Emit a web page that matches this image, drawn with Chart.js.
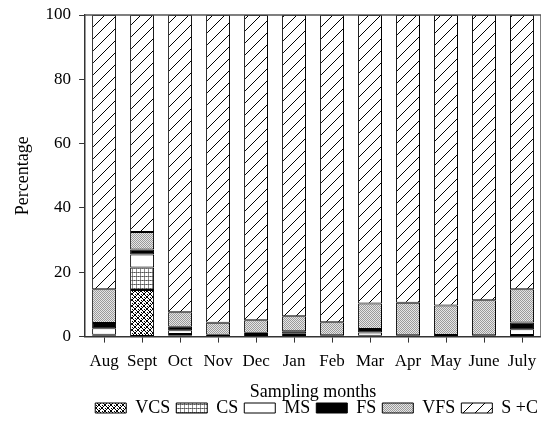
<!DOCTYPE html>
<html>
<head>
<meta charset="utf-8">
<script src="https://cdn.jsdelivr.net/npm/chart.js@4/dist/chart.umd.min.js"></script>
<style>
  html, body { margin: 0; padding: 0; background: #fff; }
  #wrap { width: 541px; height: 421px; }
</style>
</head>
<body>
<div id="wrap"><canvas id="c" width="541" height="421"></canvas></div>
<script>
const months = ["Aug","Sept","Oct","Nov","Dec","Jan","Feb","Mar","Apr","May","June","July"];
const seriesNames = ["VCS","CS","MS","FS","VFS","S +C"];
const vcs = [0.3, 14.5, 0.3, 0.0, 0.0, 0.2, 0.0, 0.2, 0.0, 0.0, 0.0, 0.2];
const cs  = [0.3,  7.0, 0.5, 0.0, 0.2, 0.3, 0.0, 0.1, 0.0, 0.0, 0.0, 0.3];
const ms  = [2.0,  4.0, 1.2, 0.2, 0.6, 0.4, 0.1, 1.0, 0.1, 0.1, 0.1, 1.8];
const fs  = [1.6,  1.6, 1.1, 0.4, 0.4, 0.8, 0.3, 1.1, 0.3, 0.4, 0.3, 2.1];
const vfs = [10.5, 5.4, 4.5, 3.7, 3.9, 4.6, 4.1, 7.9, 10.1, 9.2, 10.9, 10.3];
const sc  = [85.3, 67.5, 92.4, 95.7, 94.9, 93.7, 95.5, 89.7, 89.5, 90.3, 88.7, 85.3];
const yTicks = [0, 20, 40, 60, 80, 100];

function makePattern(w, h, draw) {
  const c = document.createElement('canvas');
  c.width = w; c.height = h;
  const g = c.getContext('2d');
  draw(g, w, h);
  return document.getElementById('c').getContext('2d').createPattern(c, 'repeat');
}
const pVCS = makePattern(6, 6, (g, w, h) => {
  g.fillStyle = '#fff'; g.fillRect(0, 0, w, h);
  g.fillStyle = '#000';
  const px = [[0,0],[1,1],[2,2],[3,3],[4,4],[5,5],[5,0],[4,1],[3,2],[2,3],[1,4],[0,5],[3,0],[0,3]];
  px.forEach(([x,y]) => g.fillRect(x, y, 1, 1));
  g.fillRect(2,2,2,2);
});
const pCS = makePattern(4, 4, (g, w, h) => {
  g.fillStyle = '#fff'; g.fillRect(0, 0, w, h);
  g.fillStyle = '#8a8a8a';
  g.fillRect(0, 0, w, 1);
  g.fillRect(0, 0, 1, h);
  g.fillStyle = '#555';
  g.fillRect(0, 0, 1, 1);
  g.fillRect(2, 0, 1, 1);
});
const pVFS = makePattern(2, 2, (g, w, h) => {
  g.fillStyle = '#e6e6e6'; g.fillRect(0, 0, w, h);
  g.fillStyle = '#9a9a9a';
  g.fillRect(0, 0, 1, 1);
  g.fillRect(1, 1, 1, 1);
});
const pSC = makePattern(12, 12, (g, w, h) => {
  g.fillStyle = '#fff'; g.fillRect(0, 0, w, h);
  g.strokeStyle = '#000'; g.lineWidth = 1;
  g.beginPath();
  g.moveTo(-1, h + 1); g.lineTo(w + 1, -1);
  g.stroke();
});
const fills = [pVCS, pCS, '#ffffff', '#000000', pVFS, pSC];
const values = [vcs, cs, ms, fs, vfs, sc];

const frame = {
  id: 'frame',
  afterDatasetsDraw(chart) {
    const a = chart.chartArea, ctx = chart.ctx;
    ctx.save();
    ctx.strokeStyle = '#555'; ctx.lineWidth = 1.5;
    ctx.beginPath();
    ctx.moveTo(a.left, a.top); ctx.lineTo(a.right, a.top); ctx.lineTo(a.right, a.bottom);
    ctx.stroke();
    ctx.restore();
  }
};

const serif = "'Liberation Serif', 'Times New Roman', serif";
new Chart(document.getElementById('c'), {
  type: 'bar',
  data: {
    labels: months,
    datasets: seriesNames.map((n, i) => ({
      label: n,
      data: values[i],
      backgroundColor: fills[i],
      borderColor: '#000',
      borderWidth: 1,
      borderSkipped: false,
      categoryPercentage: 1,
      barPercentage: 0.63
    }))
  },
  options: {
    responsive: false,
    animation: false,
    layout: { padding: { top: 15, left: 12, right: -3, bottom: -6 } },
    plugins: {
      tooltip: { enabled: false },
      legend: {
        position: 'bottom',
        align: 'end',
        labels: {
          boxWidth: 31, boxHeight: 10, padding: 6,
          color: '#000',
          font: { family: serif, size: 18, lineHeight: 1.0 }
        }
      }
    },
    scales: {
      x: {
        stacked: true,
        offset: true,
        afterFit(scale) { scale.paddingRight = -3; scale.paddingLeft = 0; },
        grid: { offset: false, drawOnChartArea: false, tickLength: 6, color: '#333', tickColor: '#333' },
        border: { color: '#333', width: 1.5 },
        ticks: { color: '#000', font: { family: serif, size: 17 }, padding: 9, maxRotation: 0, autoSkip: false },
        title: { display: true, text: 'Sampling months', color: '#000', font: { family: serif, size: 18, lineHeight: 1.0 }, padding: { top: 2, bottom: -8 } }
      },
      y: {
        stacked: true,
        min: 0, max: 100,
        afterBuildTicks(scale) { scale.ticks = yTicks.map(v => ({ value: v })); },
        afterFit(scale) { scale.paddingRight = -3; scale.paddingTop = 0; },
        grid: { drawOnChartArea: false, tickLength: 6, color: '#333', tickColor: '#333' },
        border: { color: '#333', width: 1.5 },
        ticks: { color: '#000', font: { family: serif, size: 17 }, padding: 8 },
        title: { display: true, text: 'Percentage', color: '#000', font: { family: serif, size: 18 }, padding: { top: 0, bottom: 4 } }
      }
    }
  },
  plugins: [frame]
});
</script>
</body>
</html>
